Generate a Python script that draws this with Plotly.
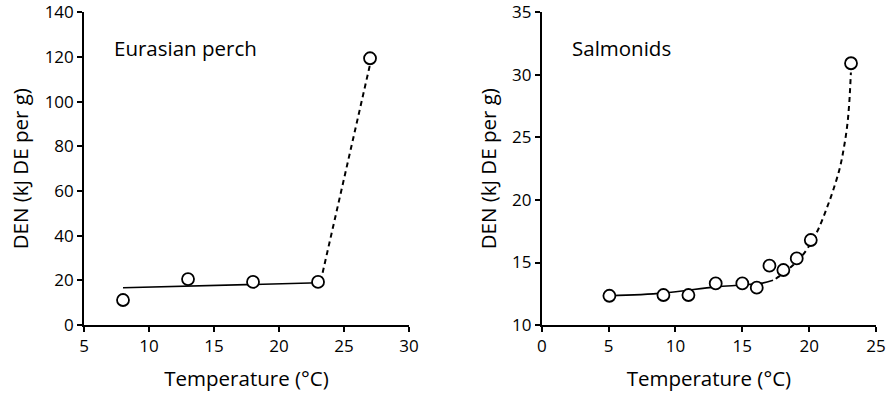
import plotly.graph_objects as go

# Eurasian perch
perch_temp = [8.0, 13.0, 18.0, 23.0, 27.0]
perch_den = [11.2, 20.6, 19.3, 19.3, 119.5]
perch_fit_x = [8.0, 23.1]
perch_fit_y = [16.7, 18.9]
perch_dash_x = [23.2, 27.05]
perch_dash_y = [19.5, 118.0]

# Salmonids
salm_temp = [5.06, 9.1, 10.97, 13.01, 15.0, 16.08, 17.03, 18.07, 19.07, 20.12, 23.13]
salm_den = [12.34, 12.4, 12.4, 13.33, 13.33, 12.99, 14.75, 14.4, 15.33, 16.8, 30.94]
salm_fit_x = [5.06, 9.1, 13.0, 15.0, 16.5, 17.3]
salm_fit_y = [12.34, 12.55, 13.05, 13.2, 13.35, 13.58]
salm_dash_x = [17.5, 18.1, 18.7, 19.2, 19.8, 20.3, 20.7, 21.3, 21.8, 22.3, 22.6, 22.85, 23.0, 23.12]
salm_dash_y = [13.7, 14.15, 14.7, 15.2, 16.0, 16.9, 17.7, 19.3, 20.8, 22.6, 24.2, 26.0, 27.8, 30.2]

FONT = "Open Sans"
fig = go.Figure()

line_solid = dict(color="black", width=1.6)
line_dash = dict(color="black", width=2, dash="5px,4px")
marker = dict(symbol="circle", size=12, color="white", line=dict(color="black", width=1.8))

fig.add_trace(go.Scatter(x=perch_fit_x, y=perch_fit_y, mode="lines", line=line_solid, xaxis="x", yaxis="y"))
fig.add_trace(go.Scatter(x=perch_dash_x, y=perch_dash_y, mode="lines", line=line_dash, xaxis="x", yaxis="y"))
fig.add_trace(go.Scatter(x=perch_temp, y=perch_den, mode="markers", marker=marker, xaxis="x", yaxis="y"))

fig.add_trace(go.Scatter(x=salm_fit_x, y=salm_fit_y, mode="lines", line=dict(color="black", width=1.6, shape="spline"), xaxis="x2", yaxis="y2"))
fig.add_trace(go.Scatter(x=salm_dash_x, y=salm_dash_y, mode="lines", line=dict(color="black", width=2, dash="5px,4px", shape="spline", smoothing=1.0), xaxis="x2", yaxis="y2"))
fig.add_trace(go.Scatter(x=salm_temp, y=salm_den, mode="markers", marker=marker, xaxis="x2", yaxis="y2"))

axis_common = dict(
    showline=True, linecolor="black", linewidth=1.6, ticks="outside", ticklen=5,
    tickcolor="black", tickwidth=1.6, showgrid=False, zeroline=False,
    tickfont=dict(family=FONT, size=17, color="black"), automargin=False,
)
title_font = dict(family=FONT, size=20.5, color="black")

fig.update_layout(
    width=890, height=398, margin=dict(l=0, r=0, t=0, b=0),
    paper_bgcolor="white", plot_bgcolor="white", showlegend=False,
    xaxis=dict(domain=[0.0944, 0.4596], range=[5, 30], tickvals=[5, 10, 15, 20, 25, 30],
               title=dict(text="Temperature (°C)", font=title_font, standoff=15), anchor="y", **axis_common),
    yaxis=dict(domain=[0.1834, 0.9686], range=[0, 140], tickvals=[0, 20, 40, 60, 80, 100, 120, 140],
               title=dict(text="DEN (kJ DE per g)", font=title_font, standoff=10), anchor="x", **axis_common),
    xaxis2=dict(domain=[0.6087, 0.9843], range=[0, 25], tickvals=[0, 5, 10, 15, 20, 25],
                title=dict(text="Temperature (°C)", font=title_font, standoff=15), anchor="y2", **axis_common),
    yaxis2=dict(domain=[0.1834, 0.9686], range=[10, 35], tickvals=[10, 15, 20, 25, 30, 35],
                title=dict(text="DEN (kJ DE per g)", font=title_font, standoff=10), anchor="x2", **axis_common),
    annotations=[
        dict(text="Eurasian perch", x=112 / 890, y=1 - 48 / 398, xref="paper", yref="paper",
             xanchor="left", yanchor="middle", showarrow=False, font=dict(family=FONT, size=20.5, color="black")),
        dict(text="Salmonids", x=570 / 890, y=1 - 48 / 398, xref="paper", yref="paper",
             xanchor="left", yanchor="middle", showarrow=False, font=dict(family=FONT, size=20.5, color="black")),
    ],
)

fig.write_html("out.html")
